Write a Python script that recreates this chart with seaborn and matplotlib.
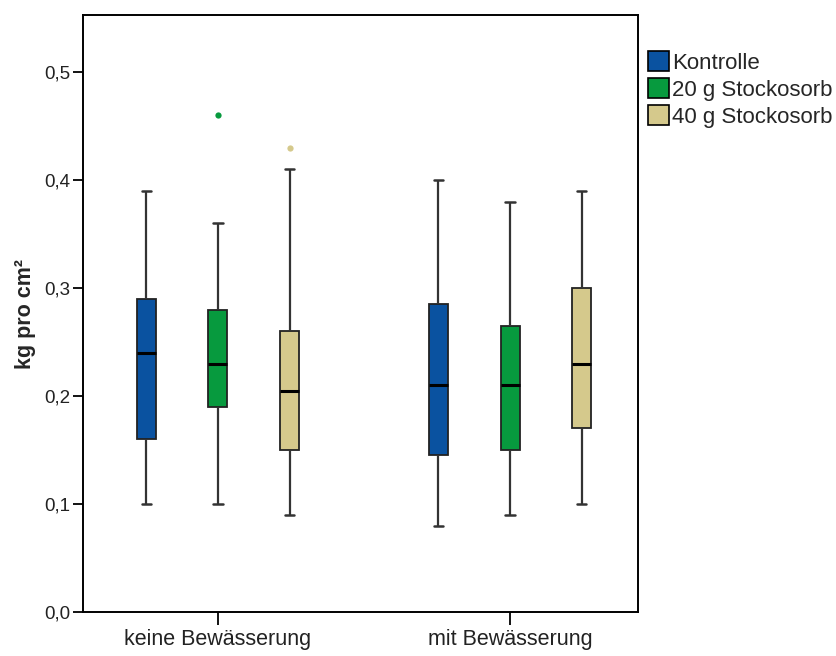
import numpy as np
import pandas as pd
import seaborn as sns
import matplotlib
matplotlib.use("Agg")
import matplotlib.pyplot as plt
from matplotlib.patches import Patch
from matplotlib.ticker import FuncFormatter

# ---- data ----
groups = ["keine Bewässerung", "mit Bewässerung"]
treatments = ["Kontrolle", "20 g Stockosorb", "40 g Stockosorb"]
whisker_low = [[0.10, 0.10, 0.09], [0.08, 0.09, 0.10]]
q1 = [[0.16, 0.19, 0.15], [0.145, 0.15, 0.17]]
median = [[0.24, 0.23, 0.205], [0.21, 0.21, 0.23]]
q3 = [[0.29, 0.28, 0.26], [0.285, 0.265, 0.30]]
whisker_high = [[0.39, 0.36, 0.41], [0.40, 0.38, 0.39]]
outliers = [[[], [0.46], [0.43]], [[], [], []]]
colors = ["#0a52a0", "#079a3e", "#d5c98c"]
y_ticks = [0.0, 0.1, 0.2, 0.3, 0.4, 0.5]

# build small samples whose quartiles/whiskers reproduce the box statistics
rows = []
for gi, g in enumerate(groups):
    for ti, t in enumerate(treatments):
        lo, a, m, b, hi = (whisker_low[gi][ti], q1[gi][ti], median[gi][ti],
                           q3[gi][ti], whisker_high[gi][ti])
        outs = outliers[gi][ti]
        if outs:
            vals = [lo, a, a, m, m, b, b, hi] + list(outs)
        else:
            vals = [lo, a, a, m, m, m, b, b, hi]
        for v in vals:
            rows.append({"group": g, "treatment": t, "value": v})
df = pd.DataFrame(rows)

sns.set_theme(style="white")
plt.rcParams["font.family"] = ["Liberation Sans", "DejaVu Sans"]

fig = plt.figure(figsize=(8.37, 6.56), dpi=100)
ax = fig.add_axes([83 / 837, 1 - 612 / 656, (638 - 83) / 837, (612 - 15) / 656])

sns.boxplot(
    data=df, x="group", y="value", hue="treatment",
    order=groups, hue_order=treatments, palette=colors, saturation=1,
    width=0.735, gap=0.735, linecolor="black", linewidth=1.2,
    boxprops=dict(edgecolor="#222222", linewidth=1.3),
    medianprops=dict(color="black", linewidth=2.2),
    whiskerprops=dict(color="#333333", linewidth=1.6),
    capprops=dict(color="#333333", linewidth=1.8),
    flierprops=dict(marker="o", markersize=4.5, markeredgewidth=0),
    legend=False, ax=ax,
)

# colour fliers like their boxes
for cont, c in zip(ax.containers, colors):
    try:
        for fl in cont.fliers:
            fl.set_markerfacecolor(c)
            fl.set_markeredgecolor(c)
    except AttributeError:
        pass

ax.set_xlim(-0.462, 1.438)
ax.set_ylim(0, 0.5528)
ax.set_yticks(y_ticks)
ax.yaxis.set_major_formatter(FuncFormatter(lambda v, p: f"{v:.1f}".replace(".", ",")))
ax.set_xlabel("")
ax.set_ylabel("kg pro cm²", fontsize=15.5, fontweight="bold", labelpad=6)

for s in ax.spines.values():
    s.set_visible(True)
    s.set_color("black")
    s.set_linewidth(1.4)

ax.tick_params(axis="both", which="major", direction="out", width=1.3,
               color="black", labelcolor="#222222",
               left=True, bottom=True, top=False, right=False)
ax.tick_params(axis="y", length=7, labelsize=13.5, pad=2)
ax.tick_params(axis="x", length=9.5, labelsize=15.5, pad=3)

handles = [Patch(facecolor=c, edgecolor="black", linewidth=1.2) for c in colors]
ax.legend(handles, treatments, loc="upper left", bbox_to_anchor=(0.998, 0.958),
          frameon=False, fontsize=16, handlelength=0.95, handleheight=1.0,
          handletextpad=0.12, labelspacing=0.2, borderaxespad=0.4,
          borderpad=0.1)

fig.savefig("out.png", dpi=100)
